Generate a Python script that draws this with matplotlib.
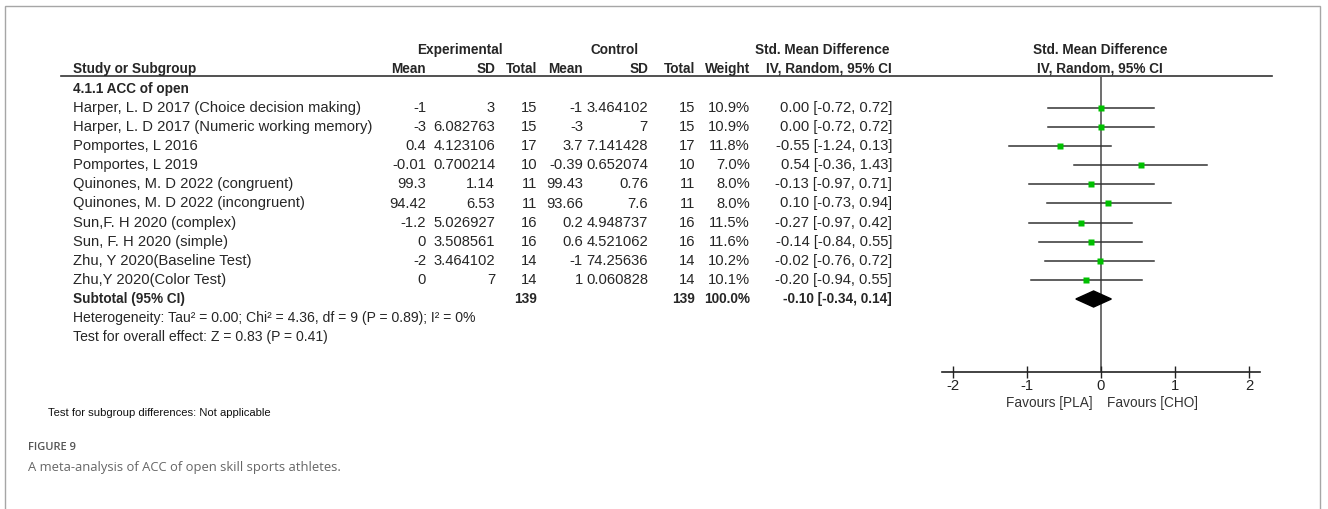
import matplotlib
matplotlib.use("Agg")
import matplotlib.pyplot as plt
from matplotlib.patches import Rectangle

plt.rcParams["font.family"] = ["Liberation Sans", "DejaVu Sans"]

# ---- data ----
studies = [
    "Harper, L. D 2017 (Choice decision making)",
    "Harper, L. D 2017 (Numeric working memory)",
    "Pomportes, L 2016",
    "Pomportes, L 2019",
    "Quinones, M. D 2022 (congruent)",
    "Quinones, M. D 2022 (incongruent)",
    "Sun,F. H 2020 (complex)",
    "Sun, F. H 2020 (simple)",
    "Zhu, Y 2020(Baseline Test)",
    "Zhu,Y 2020(Color Test)",
]
exp_mean = [-1, -3, 0.4, -0.01, 99.3, 94.42, -1.2, 0, -2, 0]
exp_sd = [3, 6.082763, 4.123106, 0.700214, 1.14, 6.53, 5.026927, 3.508561, 3.464102, 7]
exp_n = [15, 15, 17, 10, 11, 11, 16, 16, 14, 14]
ctrl_mean = [-1, -3, 3.7, -0.39, 99.43, 93.66, 0.2, 0.6, -1, 1]
ctrl_sd = [3.464102, 7, 7.141428, 0.652074, 0.76, 7.6, 4.948737, 4.521062, 74.25636, 0.060828]
ctrl_n = [15, 15, 17, 10, 11, 11, 16, 16, 14, 14]
weight = [10.9, 10.9, 11.8, 7.0, 8.0, 8.0, 11.5, 11.6, 10.2, 10.1]
smd = [0.00, 0.00, -0.55, 0.54, -0.13, 0.10, -0.27, -0.14, -0.02, -0.20]
ci_lo = [-0.72, -0.72, -1.24, -0.36, -0.97, -0.73, -0.97, -0.84, -0.76, -0.94]
ci_hi = [0.72, 0.72, 0.13, 1.43, 0.71, 0.94, 0.42, 0.55, 0.72, 0.55]
pooled_smd, pooled_lo, pooled_hi = -0.10, -0.34, 0.14
total_exp, total_ctrl = 139, 139
x_ticks = [-2, -1, 0, 1, 2]

txt = "#262626"
W, H = 1328, 509
ROW0, STEP = 108, 19.1   # pixel y of first study row, row spacing

fig = plt.figure(figsize=(W / 100, H / 100), dpi=100)

# table layer: x in pixels, y in row units
ax = fig.add_axes([0, 0, 1, 1])
ax.set_xlim(0, W)
ax.set_ylim((H - ROW0) / STEP, -ROW0 / STEP)
ax.axis("off")

fs, fsb, fss = 10.6, 9.8, 10.1
hdr1, hdr2 = (50 - ROW0) / STEP, (69 - ROW0) / STEP
ax.text(460, hdr1, "Experimental", ha="center", va="center", fontsize=fsb, weight="bold", color=txt)
ax.text(615, hdr1, "Control", ha="center", va="center", fontsize=fsb, weight="bold", color=txt)
ax.text(822, hdr1, "Std. Mean Difference", ha="center", va="center", fontsize=fsb, weight="bold", color=txt)
ax.text(1100, hdr1, "Std. Mean Difference", ha="center", va="center", fontsize=fsb, weight="bold", color=txt)
ax.text(73, hdr2, "Study or Subgroup", ha="left", va="center", fontsize=fsb, weight="bold", color=txt)
cols = [426, 495, 537, 583, 648, 695, 750, 892]
for x, lab in zip(cols, ["Mean", "SD", "Total", "Mean", "SD", "Total", "Weight", "IV, Random, 95% CI"]):
    ax.text(x, hdr2, lab, ha="right", va="center", fontsize=fsb, weight="bold", color=txt)
ax.text(1100, hdr2, "IV, Random, 95% CI", ha="center", va="center", fontsize=fsb, weight="bold", color=txt)
ax.plot([61, 1272], [(76 - ROW0) / STEP] * 2, color="#333333", lw=1.2)

ax.text(73, -1, "4.1.1 ACC of open", ha="left", va="center", fontsize=fsb, weight="bold", color=txt)
for i, name in enumerate(studies):
    vals = [str(exp_mean[i]), str(exp_sd[i]), str(exp_n[i]),
            str(ctrl_mean[i]), str(ctrl_sd[i]), str(ctrl_n[i]),
            f"{weight[i]:.1f}%", f"{smd[i]:.2f} [{ci_lo[i]:.2f}, {ci_hi[i]:.2f}]"]
    ax.text(73, i, name, ha="left", va="center", fontsize=fs, color=txt)
    for x, v in zip(cols, vals):
        ax.text(x, i, v, ha="right", va="center", fontsize=fs, color=txt)

n = len(studies)
ax.text(73, n, "Subtotal (95% CI)", ha="left", va="center", fontsize=fsb, weight="bold", color=txt)
ax.text(cols[2], n, str(total_exp), ha="right", va="center", fontsize=fsb, weight="bold", color=txt)
ax.text(cols[5], n, str(total_ctrl), ha="right", va="center", fontsize=fsb, weight="bold", color=txt)
ax.text(cols[6], n, f"{sum(weight):.1f}%", ha="right", va="center", fontsize=fsb, weight="bold", color=txt)
ax.text(cols[7], n, f"{pooled_smd:.2f} [{pooled_lo:.2f}, {pooled_hi:.2f}]",
        ha="right", va="center", fontsize=fsb, weight="bold", color=txt)
ax.text(73, n + 1, "Heterogeneity: Tau² = 0.00; Chi² = 4.36, df = 9 (P = 0.89); I² = 0%",
        ha="left", va="center", fontsize=fss, color=txt)
ax.text(73, n + 2, "Test for overall effect: Z = 0.83 (P = 0.41)",
        ha="left", va="center", fontsize=fss, color=txt)
ax.text(48, (413 - ROW0) / STEP, "Test for subgroup differences: Not applicable",
        ha="left", va="center", fontsize=8.1, color="#111111")

ax.text(28, (447 - ROW0) / STEP, "FIGURE 9", ha="left", va="center",
        fontsize=8, color="#555555", family="Open Sans", weight="semibold")
ax.text(28, (468 - ROW0) / STEP, "A meta-analysis of ACC of open skill sports athletes.",
        ha="left", va="center", fontsize=9.4, color="#666666", family="Open Sans")

fig.add_artist(Rectangle((5 / W, -0.05), 1315 / W, 1.05 - 6 / H, transform=fig.transFigure,
                         fill=False, edgecolor="#a6a6a6", lw=1))

# forest plot
fx0, fx1, fy0, fy1 = 942, 1260, 76, 372
fa = fig.add_axes([fx0 / W, (H - fy1) / H, (fx1 - fx0) / W, (fy1 - fy0) / H])
fa.patch.set_alpha(0)
fa.set_xlim(-2.15, 2.15)
fa.set_ylim((fy1 - ROW0) / STEP, (fy0 - ROW0) / STEP)
for s in ["left", "right", "top"]:
    fa.spines[s].set_visible(False)
fa.spines["bottom"].set_color("#222222")
fa.spines["bottom"].set_linewidth(1.2)
fa.set_yticks([])
fa.set_xticks(x_ticks)
fa.set_xticklabels([str(t) for t in x_ticks])
fa.tick_params(axis="x", direction="inout", length=8, width=1, colors="#222222",
               labelsize=fs, pad=1)
fa.axvline(0, color="#555555", lw=1.2, zorder=1)

for i in range(n):
    fa.plot([ci_lo[i], ci_hi[i]], [i, i], color="#333333", lw=1.1, zorder=2)
    side = 1.9 * weight[i] ** 0.5 * 0.72
    fa.plot(smd[i], i, marker="s", ms=side, color="#00c000", mec="none", zorder=3)

dh = 0.42
fa.fill([pooled_lo, pooled_smd, pooled_hi, pooled_smd], [n, n - dh, n, n + dh],
        color="black", zorder=3)

ax.text(1093, (403 - ROW0) / STEP, "Favours [PLA]", ha="right", va="center", fontsize=9.8, color="#333333")
ax.text(1107, (403 - ROW0) / STEP, "Favours [CHO]", ha="left", va="center", fontsize=9.8, color="#333333")

fig.savefig("out.png", dpi=100)
